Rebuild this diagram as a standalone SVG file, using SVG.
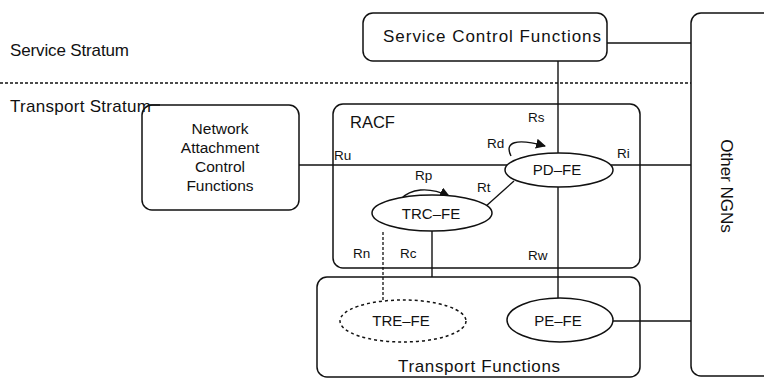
<svg xmlns="http://www.w3.org/2000/svg" width="764" height="378" viewBox="0 0 764 378">
<style>
text{font-family:"Liberation Sans",Arial,sans-serif;fill:#111}
.box{fill:none;stroke:#111;stroke-width:1.5}
.ell{fill:#fff;stroke:#111;stroke-width:1.5}
.big{font-size:17px}
.node{font-size:15px;text-anchor:middle}
.nacf{font-size:15.5px;text-anchor:middle}
.lab{font-size:13.5px}
.ln{stroke:#111;stroke-width:1.4;fill:none}
.dot{stroke:#111;stroke-width:1.3;fill:none;stroke-dasharray:3 2}
</style>
<defs>
<marker id="ah" viewBox="0 0 10 10" refX="9" refY="5" markerWidth="10" markerHeight="10" markerUnits="userSpaceOnUse" orient="auto">
<path d="M0,0 L10,5 L0,10 z" fill="#111"/>
</marker>
</defs>
<rect width="764" height="378" fill="#fff"/>
<g id="strata">
<text class="big" x="10" y="56" textLength="119">Service Stratum</text>
<text class="big" x="10" y="112" textLength="141">Transport Stratum</text>
<line class="dot" x1="0" y1="83" x2="691" y2="83"/>
</g>
<g id="connectors">
<line class="ln" x1="148" y1="105" x2="160" y2="105"/>
<line class="ln" x1="607" y1="43" x2="691" y2="43"/>
<line class="ln" x1="558" y1="61" x2="558" y2="153"/>
<line class="ln" x1="299" y1="165" x2="507" y2="165"/>
<line class="ln" x1="611" y1="165" x2="691" y2="165"/>
<line class="ln" x1="514" y1="181" x2="485" y2="207"/>
<line class="ln" x1="558" y1="187" x2="558" y2="298"/>
<line class="ln" x1="432" y1="231" x2="432" y2="277"/>
<line class="dot" x1="383" y1="232" x2="383" y2="300"/>
<line class="ln" x1="613" y1="321" x2="691" y2="321"/>
<path class="ln" d="M511,156 C504,142 516,138 545,146" marker-end="url(#ah)"/>
<path class="ln" d="M401,199 C410,189 428,186 449,196" marker-end="url(#ah)"/>
</g>
<g id="scf">
<rect class="box" x="363" y="13" width="244" height="48" rx="10"/>
<text class="big" x="492" y="42" text-anchor="middle" textLength="218">Service Control Functions</text>
</g>
<g id="other-ngns">
<rect class="box" x="691" y="13" width="110" height="363" rx="10"/>
<text class="big" transform="translate(721,186) rotate(90)" text-anchor="middle">Other NGNs</text>
</g>
<g id="nacf">
<rect class="box" x="142" y="105" width="157" height="105" rx="10"/>
<text class="nacf" x="220" y="134">Network</text>
<text class="nacf" x="220" y="153">Attachment</text>
<text class="nacf" x="220" y="172">Control</text>
<text class="nacf" x="220" y="191">Functions</text>
</g>
<g id="racf">
<rect class="box" x="333" y="104" width="307" height="164" rx="10"/>
<text x="350" y="128" style="font-size:16.5px">RACF</text>
</g>
<g id="transport-functions">
<rect class="box" x="317" y="277" width="323" height="100" rx="10"/>
<text class="big" x="479" y="372" text-anchor="middle" textLength="162">Transport Functions</text>
</g>
<g id="pd-fe">
<ellipse class="ell" cx="559" cy="170" rx="54" ry="17"/>
<text class="node" x="557" y="175">PD–FE</text>
</g>
<g id="trc-fe">
<ellipse class="ell" cx="432" cy="213" rx="60" ry="18"/>
<text class="node" x="431" y="219">TRC–FE</text>
</g>
<g id="tre-fe">
<ellipse class="ell" cx="403" cy="321" rx="63" ry="21" style="stroke-dasharray:3 3"/>
<text class="node" x="401" y="326">TRE–FE</text>
</g>
<g id="pe-fe">
<ellipse class="ell" cx="560" cy="320" rx="53" ry="22"/>
<text class="node" x="558" y="326">PE–FE</text>
</g>
<g id="labels">
<text class="lab" x="528" y="122">Rs</text>
<text class="lab" x="487" y="148">Rd</text>
<text class="lab" x="617" y="158">Ri</text>
<text class="lab" x="477" y="192">Rt</text>
<text class="lab" x="528" y="260">Rw</text>
<text class="lab" x="334" y="160">Ru</text>
<text class="lab" x="415" y="180">Rp</text>
<text class="lab" x="353" y="258">Rn</text>
<text class="lab" x="400" y="258">Rc</text>
</g>
</svg>
